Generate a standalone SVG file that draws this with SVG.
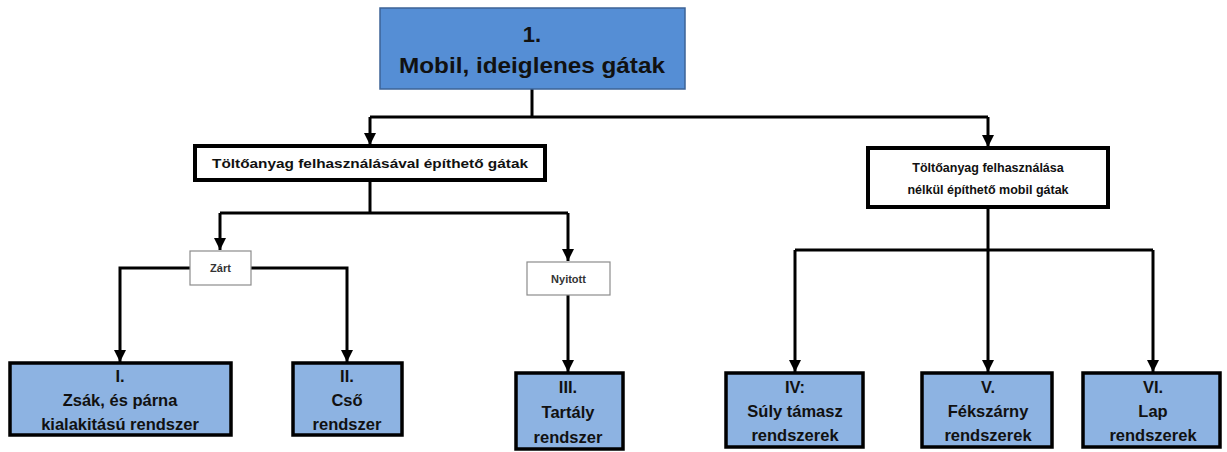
<svg xmlns="http://www.w3.org/2000/svg" width="1227" height="452" viewBox="0 0 1227 452">
  <style>
    .root { fill: #558ed5; stroke: #3c6396; stroke-width: 1.5; }
    .group { fill: #ffffff; stroke: #000000; stroke-width: 4; }
    .tag { fill: #ffffff; stroke: #8c8c8c; stroke-width: 1.2; }
    .leaf { fill: #8db3e2; stroke: #000000; stroke-width: 3.5; }
    text { font-family: "Liberation Sans", Arial, sans-serif; font-weight: bold; fill: #111111; text-anchor: middle; }
    .t-root { font-size: 22px; }
    .t-group { font-size: 12.5px; }
    .t-tag { font-size: 11px; fill: #333333; }
    .t-leaf { font-size: 16.5px; }
    .wire { fill: none; stroke: #000000; stroke-width: 3; }
  </style>
  <defs>
    <marker id="arrow" viewBox="0 0 10 10" refX="10" refY="5" markerWidth="4" markerHeight="4" orient="auto" markerUnits="strokeWidth">
      <path d="M0,0 L10,5 L0,10 Z" fill="#000000"/>
    </marker>
  </defs>
  <rect width="1227" height="452" fill="#ffffff"/>

  <!-- connectors -->
  <g id="connectors">
    <path class="wire" d="M532,89 V117"/>
    <path class="wire" d="M370,117 H988"/>
    <path class="wire" d="M370,117 V145" marker-end="url(#arrow)"/>
    <path class="wire" d="M988,117 V147" marker-end="url(#arrow)"/>
    <path class="wire" d="M370,180 V213"/>
    <path class="wire" d="M220,213 H568"/>
    <path class="wire" d="M220,213 V250" marker-end="url(#arrow)"/>
    <path class="wire" d="M568,213 V261" marker-end="url(#arrow)"/>
    <path class="wire" d="M190,268 H120 V362" marker-end="url(#arrow)"/>
    <path class="wire" d="M251,268 H347 V362" marker-end="url(#arrow)"/>
    <path class="wire" d="M568,295 V372" marker-end="url(#arrow)"/>
    <path class="wire" d="M988,207 V250"/>
    <path class="wire" d="M795,250 H1153"/>
    <path class="wire" d="M795,250 V372" marker-end="url(#arrow)"/>
    <path class="wire" d="M988,250 V372" marker-end="url(#arrow)"/>
    <path class="wire" d="M1153,250 V372" marker-end="url(#arrow)"/>
  </g>

  <!-- root node -->
  <g id="node-root">
    <rect class="root" x="380" y="8" width="305" height="81"/>
    <text class="t-root" x="532" y="42">1.</text>
    <text class="t-root" x="532" y="73" textLength="266" lengthAdjust="spacingAndGlyphs">Mobil, ideiglenes gátak</text>
  </g>

  <!-- second level -->
  <g id="node-filled">
    <rect class="group" x="195" y="146" width="350" height="34"/>
    <text class="t-group" x="370" y="168" textLength="316" lengthAdjust="spacingAndGlyphs">Töltőanyag felhasználásával építhető gátak</text>
  </g>
  <g id="node-unfilled">
    <rect class="group" x="868" y="148" width="240" height="59"/>
    <text class="t-group" x="988" y="172">Töltőanyag felhasználása</text>
    <text class="t-group" x="988" y="194">nélkül építhető mobil gátak</text>
  </g>

  <!-- tags -->
  <g id="node-closed">
    <rect class="tag" x="190" y="251" width="61" height="34"/>
    <text class="t-tag" x="220.5" y="272">Zárt</text>
  </g>
  <g id="node-open">
    <rect class="tag" x="527" y="262" width="83" height="33"/>
    <text class="t-tag" x="568.5" y="283">Nyitott</text>
  </g>

  <!-- leaves -->
  <g id="node-I">
    <rect class="leaf" x="10" y="363" width="221" height="72"/>
    <text class="t-leaf" x="120" y="382">I.</text>
    <text class="t-leaf" x="120" y="406">Zsák, és párna</text>
    <text class="t-leaf" x="120" y="430">kialakitású rendszer</text>
  </g>
  <g id="node-II">
    <rect class="leaf" x="293" y="363" width="109" height="72"/>
    <text class="t-leaf" x="347" y="382">II.</text>
    <text class="t-leaf" x="347" y="406">Cső</text>
    <text class="t-leaf" x="347" y="430">rendszer</text>
  </g>
  <g id="node-III">
    <rect class="leaf" x="516" y="373" width="107" height="76"/>
    <text class="t-leaf" x="568" y="393">III.</text>
    <text class="t-leaf" x="568" y="418">Tartály</text>
    <text class="t-leaf" x="568" y="443">rendszer</text>
  </g>
  <g id="node-IV">
    <rect class="leaf" x="726" y="373" width="137" height="74"/>
    <text class="t-leaf" x="795" y="393">IV:</text>
    <text class="t-leaf" x="795" y="417">Súly támasz</text>
    <text class="t-leaf" x="795" y="441">rendszerek</text>
  </g>
  <g id="node-V">
    <rect class="leaf" x="922" y="373" width="130" height="74"/>
    <text class="t-leaf" x="988" y="393">V.</text>
    <text class="t-leaf" x="988" y="417">Fékszárny</text>
    <text class="t-leaf" x="988" y="441">rendszerek</text>
  </g>
  <g id="node-VI">
    <rect class="leaf" x="1083" y="373" width="137" height="74"/>
    <text class="t-leaf" x="1153" y="393">VI.</text>
    <text class="t-leaf" x="1153" y="417">Lap</text>
    <text class="t-leaf" x="1153" y="441">rendszerek</text>
  </g>
</svg>
